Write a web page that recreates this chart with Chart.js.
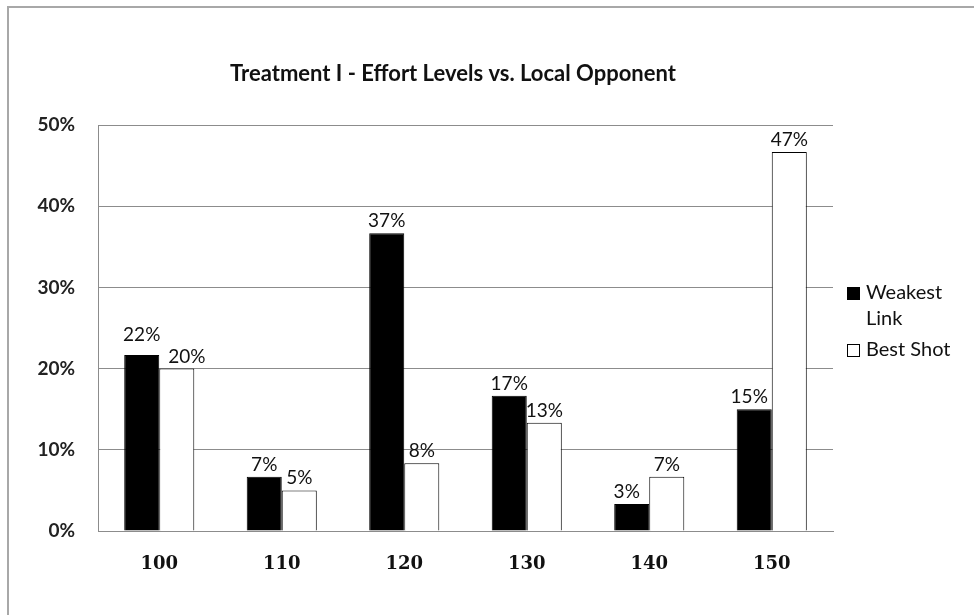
<!DOCTYPE html>
<html>
<head>
<meta charset="utf-8">
<title>Treatment I - Effort Levels vs. Local Opponent</title>
<script src="https://cdn.jsdelivr.net/npm/chart.js@4/dist/chart.umd.min.js"></script>
<style>
  html, body { margin: 0; padding: 0; background: #fff; }
  #wrap { width: 974px; height: 615px; position: relative; }
</style>
</head>
<body>
<div id="wrap"><canvas id="effortChart" width="974" height="615"></canvas></div>
<script>
// Effort levels (x categories)
const effortLevels = ['100', '110', '120', '130', '140', '150'];

// Share of choices per effort level, in percent
const weakestLink = [21.67, 6.67, 36.67, 16.67, 3.33, 15.0];
const bestShot = [20.0, 5.0, 8.33, 13.33, 6.67, 46.67];

const seriesNames = ['Weakest Link', 'Best Shot'];
const chartTitle = 'Treatment I - Effort Levels vs. Local Opponent';

// Y axis ticks
const yTicks = [0, 10, 20, 30, 40, 50];

const gridGray = '#8c8c8c';
const uiFont = 'Lato, "Open Sans", sans-serif';

// Frame lines along the top and left edge, plus the title
const framePlugin = {
    id: 'frame',
    beforeDraw(chart) {
        const ctx = chart.ctx;
        ctx.save();
        ctx.fillStyle = '#fff';
        ctx.fillRect(0, 0, chart.width, chart.height);
        ctx.fillStyle = '#a8a8a8';
        ctx.fillRect(7, 6, chart.width - 7, 2);
        ctx.fillRect(7, 6, 2, chart.height - 6);

        ctx.font = 'bold 22px ' + uiFont;
        ctx.fillStyle = '#111';
        ctx.textAlign = 'center';
        ctx.textBaseline = 'middle';
        ctx.fillText(chartTitle, 453, 74);
        ctx.restore();
    }
};

// Percentage labels above each bar
const valueLabelPlugin = {
    id: 'valueLabels',
    afterDatasetsDraw(chart) {
        const ctx = chart.ctx;
        ctx.save();
        ctx.font = '19px ' + uiFont;
        ctx.fillStyle = '#111';
        ctx.textAlign = 'center';
        ctx.textBaseline = 'alphabetic';
        const m0 = chart.getDatasetMeta(0);
        const m1 = chart.getDatasetMeta(1);
        const labelH = 22;
        effortLevels.forEach((_, i) => {
            const bars = [m0.data[i], m1.data[i]];
            const vals = [weakestLink[i], bestShot[i]];
            const texts = vals.map(v => Math.round(v) + '%');
            const ys = bars.map(b => b.y - 6);
            const xs = bars.map(b => b.x);
            // keep the two labels of a pair from overlapping
            const w0 = ctx.measureText(texts[0]).width;
            const w1 = ctx.measureText(texts[1]).width;
            const hOverlap = (xs[1] - xs[0]) < (w0 + w1) / 2 + 2;
            if (hOverlap && Math.abs(ys[0] - ys[1]) < labelH) {
                if (ys[0] < ys[1]) {
                    ys[0] = ys[1] - labelH;
                    xs[1] += 10;
                } else {
                    ys[1] = ys[0] - labelH;
                    xs[0] -= 10;
                }
            } else if (ys[1] < ys[0] - labelH) {
                // label beside a much taller bar: nudge it off that bar
                xs[0] -= 5;
            }
            texts.forEach((t, k) => ctx.fillText(t, xs[k], ys[k]));
        });
        ctx.restore();
    }
};

// Legend on the right, with word wrapping
const sideLegendPlugin = {
    id: 'sideLegend',
    afterDraw(chart) {
        const ctx = chart.ctx;
        ctx.save();
        ctx.font = '20px ' + uiFont;
        ctx.textBaseline = 'middle';
        ctx.textAlign = 'left';
        const x0 = chart.chartArea.right + 14;
        const maxW = 100;
        let y = 293;
        chart.data.datasets.forEach(ds => {
            const words = ds.label.split(' ');
            const lines = [];
            let cur = '';
            words.forEach(w => {
                const test = cur ? cur + ' ' + w : w;
                if (cur && ctx.measureText(test).width > maxW) {
                    lines.push(cur);
                    cur = w;
                } else {
                    cur = test;
                }
            });
            lines.push(cur);
            ctx.fillStyle = ds.backgroundColor;
            ctx.fillRect(x0, y - 6, 13, 13);
            ctx.strokeStyle = ds.borderColor;
            ctx.lineWidth = 1;
            ctx.strokeRect(x0 + 0.5, y - 5.5, 12, 12);
            ctx.fillStyle = '#111';
            lines.forEach((ln, k) => ctx.fillText(ln, x0 + 19, y + k * 26));
            y += (lines.length - 1) * 26 + 31;
        });
        ctx.restore();
    }
};

const ctx = document.getElementById('effortChart').getContext('2d');
new Chart(ctx, {
    type: 'bar',
    data: {
        labels: effortLevels,
        datasets: [
            {
                label: seriesNames[0],
                data: weakestLink,
                backgroundColor: '#000',
                borderColor: '#000',
                borderWidth: 1
            },
            {
                label: seriesNames[1],
                data: bestShot,
                backgroundColor: '#fff',
                borderColor: '#000',
                borderWidth: 1
            }
        ]
    },
    options: {
        responsive: false,
        animation: false,
        datasets: {
            bar: { categoryPercentage: 0.572, barPercentage: 1.0 }
        },
        layout: { padding: { left: 0, right: 141, top: 125, bottom: 0 } },
        plugins: {
            legend: { display: false },
            tooltip: { enabled: false },
            title: { display: false }
        },
        scales: {
            x: {
                grid: { display: false, drawTicks: false },
                border: { display: true, color: gridGray, width: 1 },
                ticks: {
                    color: '#111',
                    padding: 23,
                    font: { family: '"DejaVu Serif", "Liberation Serif", serif', size: 18, weight: 'bold' }
                },
                afterFit(scale) { scale.height = 84; }
            },
            y: {
                min: yTicks[0],
                max: yTicks[yTicks.length - 1],
                afterBuildTicks(scale) {
                    scale.ticks = yTicks.map(v => ({ value: v }));
                },
                grid: { color: gridGray, lineWidth: 1, drawTicks: false },
                border: { display: true, color: gridGray, width: 1 },
                ticks: {
                    color: '#222',
                    padding: 23,
                    font: { family: uiFont, size: 19, weight: 'bold' },
                    callback: v => v + '%'
                },
                afterFit(scale) { scale.width = 98; }
            }
        }
    },
    plugins: [framePlugin, valueLabelPlugin, sideLegendPlugin]
});
</script>
</body>
</html>
